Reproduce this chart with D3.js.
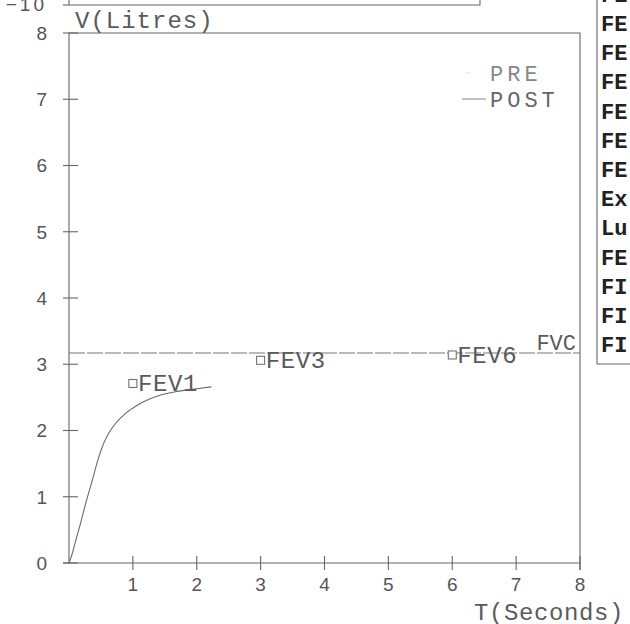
<!DOCTYPE html>
<html>
<head>
<meta charset="utf-8">
<script src="https://cdn.jsdelivr.net/npm/d3@7"></script>
<style>
body { margin: 0; background: #fff; }
svg { display: block; }
.tick-num { font-family: "Liberation Sans", sans-serif; font-size: 19px; fill: #555; }
.mono { font-family: "Liberation Mono", monospace; fill: #5a5a5a; }
.frame { stroke: #666; stroke-width: 1.1; fill: none; }
</style>
</head>
<body>
<div id="chart"></div>
<script>
// volume-time curve
var curveT = [0, 0.05, 0.1, 0.17, 0.25, 0.38, 0.45, 0.54, 0.64, 0.75, 0.9, 1.05, 1.27, 1.45, 1.69, 2.0, 2.23];
var curveV = [0, 0.14, 0.32, 0.56, 0.86, 1.3, 1.55, 1.8, 1.99, 2.13, 2.27, 2.37, 2.48, 2.54, 2.59, 2.63, 2.66];

var fvc = 3.17;
var markerNames = ["FEV1", "FEV3", "FEV6"];
var markerT = [1, 3, 6];
var markerV = [2.71, 3.06, 3.14];

var yTicks = [0, 1, 2, 3, 4, 5, 6, 7, 8];
var xTicks = [1, 2, 3, 4, 5, 6, 7, 8];

var legendNames = ["PRE", "POST"];
var tableRows = ["FE", "FE", "FE", "FE", "FE", "FE", "FE", "Ex", "Lu", "FE", "FI", "FI", "FI"];

var width = 630, height = 624;

var svg = d3.select("#chart").append("svg")
  .attr("width", width)
  .attr("height", height);

var x = d3.scaleLinear().domain([0, 8]).range([69, 580]);
var y = d3.scaleLinear().domain([0, 8]).range([563, 33]);

// bit of the chart above (flow-volume), only its bottom edge shows
svg.append("path").attr("class", "frame")
  .attr("d", "M69,0V5H480V0");
svg.append("line").attr("class", "frame")
  .attr("x1", 63).attr("x2", 69).attr("y1", 5).attr("y2", 5);
svg.append("text").attr("class", "tick-num")
  .attr("x", 47).attr("y", 11).attr("text-anchor", "end")
  .style("letter-spacing", "3px")
  .text("\u221210");

// plot frame
svg.append("path").attr("class", "frame")
  .attr("d", "M" + x(0) + "," + y(0) + "V" + y(8) + "H" + x(8) + "V" + (y(0) + 7));
svg.append("line").attr("class", "frame")
  .attr("x1", x(0) - 6).attr("x2", x(8)).attr("y1", y(0)).attr("y2", y(0));

// y ticks (crosses)
svg.selectAll(".yt").data(yTicks).enter().append("line")
  .attr("class", "frame yt")
  .attr("x1", x(0) - 6).attr("x2", x(0) + 9)
  .attr("y1", function(d) { return y(d); })
  .attr("y2", function(d) { return y(d); });
svg.selectAll(".yl").data(yTicks).enter().append("text")
  .attr("class", "tick-num yl")
  .attr("x", 47).attr("text-anchor", "end")
  .attr("y", function(d) { return y(d); })
  .attr("dy", "0.36em")
  .text(function(d) { return d; });

// x ticks
svg.selectAll(".xt").data(xTicks).enter().append("line")
  .attr("class", "frame xt")
  .attr("x1", function(d) { return x(d); })
  .attr("x2", function(d) { return x(d); })
  .attr("y1", y(0) - 7).attr("y2", y(0) + 7);
svg.selectAll(".xl").data(xTicks).enter().append("text")
  .attr("class", "tick-num xl")
  .attr("x", function(d) { return x(d); })
  .attr("y", 591).attr("text-anchor", "middle")
  .text(function(d) { return d; });

// axis titles
svg.append("text").attr("class", "mono")
  .attr("x", 75).attr("y", 28)
  .style("font-size", "24px").style("letter-spacing", "1px")
  .text("V(Litres)");
svg.append("text").attr("class", "mono")
  .attr("x", 474).attr("y", 620)
  .style("font-size", "24px").style("letter-spacing", "0.6px")
  .text("T(Seconds)");

// FVC level
svg.append("line")
  .attr("x1", x(0)).attr("x2", x(8))
  .attr("y1", y(fvc)).attr("y2", y(fvc))
  .attr("stroke", "#777").attr("stroke-width", 1)
  .attr("stroke-dasharray", "16,2");
svg.append("text").attr("class", "mono")
  .attr("x", x(8) - 4).attr("y", y(fvc) - 3)
  .attr("text-anchor", "end")
  .style("font-size", "22px")
  .text("FVC");

// the curve
var pts = curveT.map(function(t, i) { return [t, curveV[i]]; });
var line = d3.line()
  .x(function(d) { return x(d[0]); })
  .y(function(d) { return y(d[1]); })
  .curve(d3.curveMonotoneX);
svg.append("path")
  .datum(pts)
  .attr("d", line)
  .attr("fill", "none")
  .attr("stroke", "#6a6a6a")
  .attr("stroke-width", 1.1);

// FEV markers
var mk = svg.selectAll(".mk").data(markerNames).enter().append("g")
  .attr("class", "mk")
  .attr("transform", function(d, i) { return "translate(" + x(markerT[i]) + "," + y(markerV[i]) + ")"; });
mk.append("rect")
  .attr("x", -4).attr("y", -4).attr("width", 8).attr("height", 8)
  .attr("fill", "#fff").attr("stroke", "#666").attr("stroke-width", 1);
mk.append("text").attr("class", "mono")
  .attr("x", 5).attr("y", 8)
  .style("font-size", "24px").style("letter-spacing", "0.6px")
  .text(function(d) { return d; });

// legend
var lg = svg.selectAll(".lg").data(legendNames).enter().append("g")
  .attr("class", "lg")
  .attr("transform", function(d, i) { return "translate(0," + (75 + i * 26) + ")"; });
lg.append("line")
  .attr("x1", function(d, i) { return i ? 462 : 465; })
  .attr("x2", function(d, i) { return i ? 486 : 470; })
  .attr("y1", -2).attr("y2", -2)
  .attr("stroke", function(d, i) { return i ? "#888" : "#ddd"; })
  .attr("stroke-width", 1);
lg.append("text").attr("class", "mono")
  .attr("x", 490).attr("y", 6)
  .style("font-size", "22px").style("letter-spacing", "4px")
  .style("fill", function(d, i) { return i ? "#666" : "#888"; })
  .text(function(d) { return d; });

// results table on the right, cut by the page edge
svg.append("path").attr("class", "frame")
  .attr("d", "M597,0V364H630");
svg.selectAll(".tr").data(tableRows).enter().append("text")
  .attr("class", "tr")
  .attr("x", 601)
  .attr("y", function(d, i) { return 23 + (i - 1) * 29.2; })
  .attr("dy", "0.36em")
  .style("font-family", "'Liberation Mono', monospace")
  .style("font-weight", "bold")
  .style("font-size", "22px")
  .style("fill", "#222")
  .text(function(d) { return d; });
</script>
</body>
</html>
